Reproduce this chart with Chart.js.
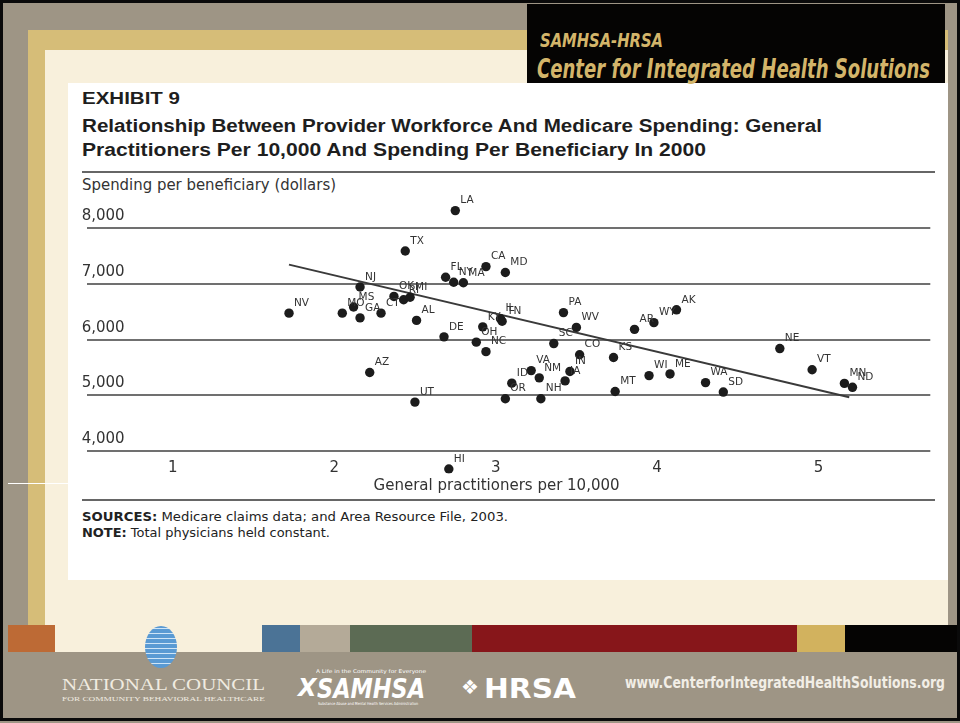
<!DOCTYPE html>
<html lang="en">
<head>
<meta charset="UTF-8">
<title>Exhibit 9</title>
<script src="https://cdn.jsdelivr.net/npm/chart.js"></script>
<style>
	body { margin: 0; width: 960px; height: 723px; position: relative; overflow: hidden; background: #9e9585; font-family: "DejaVu Sans", sans-serif; }
	.box { position: absolute; }
	.txt { position: absolute; white-space: nowrap; transform-origin: 0 50%; }
	#chartWrap { position: absolute; left: 82px; top: 190px; width: 853px; height: 306px; }
</style>
</head>
<body>

<!-- slide frame -->
<div class="box" style="left:28px;top:30px;width:932px;height:595px;background:#d6bd78"></div>
<div class="box" style="left:45px;top:50px;width:903px;height:575px;background:#f8f0dc"></div>
<div class="box" style="left:948px;top:0;width:12px;height:652px;background:#9e9585"></div>
<div class="box" style="left:527px;top:4px;width:418px;height:79px;background:#050403"></div>
<div class="box" style="left:68px;top:83px;width:880px;height:497px;background:#fff"></div>
<div class="box" style="left:8px;top:483px;width:60px;height:1px;background:#fff"></div>

<!-- colour bar row -->
<div class="box" style="left:8px;top:625px;width:47px;height:27px;background:#bd6a35"></div>
<div class="box" style="left:55px;top:625px;width:207px;height:27px;background:#f8f0dc"></div>
<div class="box" style="left:262px;top:625px;width:38px;height:27px;background:#4b7396"></div>
<div class="box" style="left:300px;top:625px;width:50px;height:27px;background:#b4aa98"></div>
<div class="box" style="left:350px;top:625px;width:122px;height:27px;background:#5c6b54"></div>
<div class="box" style="left:472px;top:625px;width:325px;height:27px;background:#87161a"></div>
<div class="box" style="left:797px;top:625px;width:48px;height:27px;background:#d2b25e"></div>
<div class="box" style="left:845px;top:625px;width:115px;height:27px;background:#050403"></div>
<div class="box" style="left:145px;top:626px;width:32px;height:42px;border-radius:50%;background:repeating-linear-gradient(0deg,#5a9ad3 0 4px,#cfe5f7 4px 5px),#5a9ad3"></div>

<!-- header -->
<div class="txt fit" data-w="123" style="left:540px;top:29px;line-height:22px;font:italic bold 19px 'DejaVu Sans Condensed','DejaVu Sans';color:#d3b56a">SAMHSA-HRSA</div>
<div class="txt fit" data-w="393" style="left:537px;top:54px;line-height:28px;font:italic bold 26px 'DejaVu Sans Condensed','DejaVu Sans';color:#d3b56a">Center for Integrated Health Solutions</div>

<!-- titles -->
<div class="txt fit" data-w="98" style="left:82px;top:89px;line-height:24px;font:bold 17px 'Liberation Sans';color:#1e1e1e">EXHIBIT 9</div>
<div class="txt fit" data-w="740" style="left:82px;top:116px;line-height:24px;font:bold 18px 'Liberation Sans';color:#1e1e1e">Relationship Between Provider Workforce And Medicare Spending: General</div>
<div class="txt fit" data-w="624" style="left:82px;top:140px;line-height:24px;font:bold 18px 'Liberation Sans';color:#1e1e1e">Practitioners Per 10,000 And Spending Per Beneficiary In 2000</div>
<div class="box" style="left:82px;top:171px;width:853px;height:2px;background:#666"></div>
<div class="txt fit" data-w="254" style="left:82px;top:176px;line-height:18px;font:15px 'DejaVu Sans';color:#333">Spending per beneficiary (dollars)</div>

<div id="chartWrap"><canvas id="gpChart" width="853" height="306"></canvas></div>

<div class="box" style="left:82px;top:499px;width:853px;height:2px;background:#666"></div>
<div class="txt fit" data-w="426" style="left:82px;top:510px;line-height:15px;font:12px 'DejaVu Sans';color:#222"><b>SOURCES:</b> Medicare claims data; and Area Resource File, 2003.</div>
<div class="txt fit" data-w="248" style="left:82px;top:526px;line-height:15px;font:12px 'DejaVu Sans';color:#222"><b>NOTE:</b> Total physicians held constant.</div>

<!-- footer -->
<div class="txt fit" data-w="203" style="left:62px;top:675px;line-height:20px;font:17px 'Liberation Serif';color:#f0ebe0">NATIONAL COUNCIL</div>
<div class="txt fit" data-w="203" style="left:62px;top:695px;line-height:9px;font:7px 'Liberation Serif';color:#f0ebe0">FOR COMMUNITY BEHAVIORAL HEALTHCARE</div>
<div class="txt fit" data-w="110" style="left:316px;top:668px;line-height:7px;font:5px 'DejaVu Sans';color:#fff">A Life in the Community for Everyone</div>
<div class="txt" style="left:298px;top:674px;line-height:28px;font:italic bold 24px 'DejaVu Sans';color:#fff">X</div>
<div class="txt fit" data-w="108" style="left:317px;top:674px;line-height:28px;font:italic bold 26px 'DejaVu Sans Condensed','DejaVu Sans';color:#fff">SAMHSA</div>
<div class="txt fit" data-w="100" style="left:318px;top:701px;line-height:6px;font:4px 'DejaVu Sans';color:#fff">Substance Abuse and Mental Health Services Administration</div>
<div class="txt" style="left:461px;top:675px;line-height:26px;font:bold 20px 'DejaVu Sans';color:#fff">&#10070;</div>
<div class="txt fit" data-w="92" style="left:484px;top:674px;line-height:28px;font:bold 26px 'DejaVu Sans';color:#fff">HRSA</div>
<div class="txt fit" data-w="320" style="left:625px;top:674px;line-height:18px;font:bold 15px 'DejaVu Sans Condensed','DejaVu Sans';color:#f2eee6">www.CenterforIntegratedHealthSolutions.org</div>

<div class="box" style="left:0;top:0;width:954px;height:715px;border:3px solid #0a0a0a;pointer-events:none"></div>

<script>
const states = ['NV','MO','MS','GA','CT','NJ','OK','RI','MI','AL',
	'TX','LA','FL','NY','MA','CA','MD','DE','KY','OH',
	'NC','IL','TN','PA','WV','SC','CO','KS','AR','WY',
	'AK','VA','NM','IN','IA','ID','OR','NH','MT','WI',
	'ME','WA','SD','NE','VT','MN','ND','AZ','UT','HI'];
const gpPer10k = [1.72, 2.05, 2.12, 2.16, 2.29, 2.16, 2.37, 2.43, 2.47, 2.51,
	2.44, 2.75, 2.69, 2.74, 2.80, 2.94, 3.06, 2.68, 2.92, 2.88,
	2.94, 3.03, 3.04, 3.42, 3.50, 3.36, 3.52, 3.73, 3.86, 3.98,
	4.12, 3.22, 3.27, 3.46, 3.43, 3.10, 3.06, 3.28, 3.74, 3.95,
	4.08, 4.30, 4.41, 4.76, 4.96, 5.16, 5.21, 2.22, 2.50, 2.71];
const spending = [6475, 6475, 6585, 6390, 6475, 6945, 6775, 6715, 6760, 6345,
	7590, 8315, 7120, 7030, 7020, 7310, 7205, 6050, 6230, 5955,
	5785, 6375, 6330, 6485, 6220, 5930, 5730, 5680, 6185, 6305,
	6535, 5445, 5315, 5430, 5260, 5220, 4940, 4940, 5070, 5355,
	5385, 5230, 5060, 5840, 5460, 5215, 5145, 5410, 4880, 3680];
const trendX = [1.72, 5.19];
const trendY = [7346, 4968];
const xTicks = [1, 2, 3, 4, 5];
const yTicks = [4000, 5000, 6000, 7000, 8000];

// squeeze header / footer text to the widths in the exhibit
document.querySelectorAll('.fit').forEach(el => {
	const w = el.getBoundingClientRect().width;
	el.style.transform = 'scaleX(' + (el.dataset.w / w) + ')';
});

const stateLabels = {
	id: 'stateLabels',
	afterDatasetsDraw(chart) {
		const ctx = chart.ctx;
		const meta = chart.getDatasetMeta(0);
		ctx.save();
		ctx.font = '10.5px "DejaVu Sans"';
		ctx.fillStyle = '#333';
		ctx.textAlign = 'left';
		ctx.textBaseline = 'middle';
		meta.data.forEach((pt, i) => ctx.fillText(states[i], pt.x + 5, pt.y - 10));
		ctx.restore();
	}
};

const axisFont = { family: 'DejaVu Sans', size: 15 };

new Chart(document.getElementById('gpChart'), {
	type: 'scatter',
	data: {
		datasets: [
			{
				data: states.map((s, i) => ({ x: gpPer10k[i], y: spending[i] })),
				pointRadius: 4.7,
				pointBackgroundColor: '#1c1c1c',
				pointBorderWidth: 0
			},
			{
				data: trendX.map((x, i) => ({ x: x, y: trendY[i] })),
				showLine: true,
				borderColor: '#3a3a3a',
				borderWidth: 2,
				pointRadius: 0
			}
		]
	},
	options: {
		responsive: false,
		animation: false,
		layout: { padding: { top: 3, left: 0, right: 0, bottom: 0 } },
		plugins: { legend: { display: false }, tooltip: { enabled: false } },
		scales: {
			x: {
				min: 0.467,
				max: 5.692,
				afterBuildTicks: s => { s.ticks = xTicks.map(v => ({ value: v })); },
				afterFit: s => { s.height = 22.55; },
				grid: { display: false, drawTicks: false },
				border: { display: false },
				// mirrored so the labels may sit just under the 4,000 rule, level with HI
				ticks: { color: '#333', font: axisFont, mirror: true, padding: -3.5 },
				title: {
					display: true,
					text: 'General practitioners per 10,000\u00a0\u00a0\u00a0\u00a0\u00a0',
					color: '#333',
					font: axisFont,
					padding: { top: 0, bottom: 1 }
				}
			},
			y: {
				min: 3600,
				max: 8600,
				afterBuildTicks: s => { s.ticks = yTicks.map(v => ({ value: v })); },
				afterFit: s => { s.width = 0; },
				grid: { color: '#707070', lineWidth: 2, drawTicks: false },
				border: { display: false },
				ticks: {
					mirror: true,
					padding: -5,
					labelOffset: -12,
					color: '#333',
					font: axisFont,
					callback: v => v.toLocaleString('en-US')
				}
			}
		}
	},
	plugins: [stateLabels]
});
</script>
</body>
</html>
